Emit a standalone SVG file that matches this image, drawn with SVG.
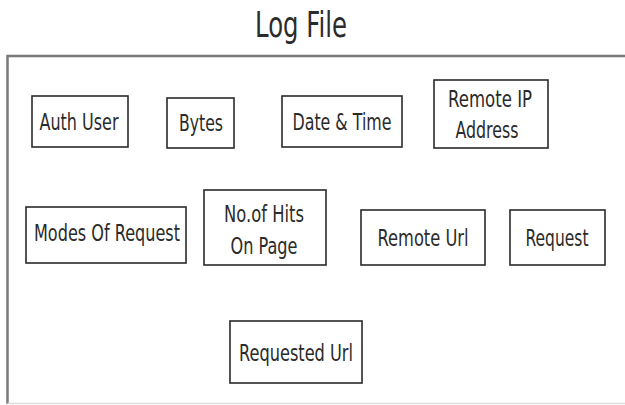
<svg xmlns="http://www.w3.org/2000/svg" width="625" height="405" viewBox="0 0 625 405">
<style>
.frame{fill:none;stroke:#7a7a7a;stroke-width:2.5}
.box{fill:#fff;stroke:#2a2a2a;stroke-width:1.6}
.t{font-family:"DejaVu Sans",Verdana,sans-serif;font-size:23px;fill:#2b2b2b;text-anchor:middle}
.title{font-family:"DejaVu Sans",Verdana,sans-serif;font-size:35px;fill:#2b2b2b;text-anchor:middle}
</style>
<rect width="625" height="405" fill="#fff"/>
<g id="log-file">
<path class="frame" d="M7.5,404 V56 H626"/>
<path d="M7.5,403.5 H625" stroke="#dcdcdc" stroke-width="1.5" fill="none"/>
<text class="title" x="301" y="37" textLength="92" lengthAdjust="spacingAndGlyphs">Log File</text>
</g>
<g id="connectors"></g>
<g id="auth-user"><rect class="box" x="32" y="96" width="96" height="51"/><text class="t" x="79" y="130" textLength="79" lengthAdjust="spacingAndGlyphs">Auth User</text></g>
<g id="bytes"><rect class="box" x="167" y="98" width="67" height="50"/><text class="t" x="201" y="131" textLength="44" lengthAdjust="spacingAndGlyphs">Bytes</text></g>
<g id="date-time"><rect class="box" x="282" y="96" width="120" height="51"/><text class="t" x="342" y="130" textLength="99" lengthAdjust="spacingAndGlyphs">Date &amp; Time</text></g>
<g id="remote-ip"><rect class="box" x="434" y="80" width="114" height="68"/><text class="t" x="490" y="107" textLength="84" lengthAdjust="spacingAndGlyphs">Remote IP</text><text class="t" x="487" y="138" textLength="63" lengthAdjust="spacingAndGlyphs">Address</text></g>
<g id="modes-of-request"><rect class="box" x="26" y="207" width="160" height="56"/><text class="t" x="107" y="241" textLength="146" lengthAdjust="spacingAndGlyphs">Modes Of Request</text></g>
<g id="hits-on-page"><rect class="box" x="204" y="190" width="122" height="75"/><text class="t" x="264" y="222" textLength="80" lengthAdjust="spacingAndGlyphs">No.of Hits</text><text class="t" x="264" y="254" textLength="67" lengthAdjust="spacingAndGlyphs">On Page</text></g>
<g id="remote-url"><rect class="box" x="361" y="210" width="124" height="55"/><text class="t" x="423" y="246" textLength="91" lengthAdjust="spacingAndGlyphs">Remote Url</text></g>
<g id="request"><rect class="box" x="510" y="210" width="95" height="55"/><text class="t" x="557" y="246" textLength="63" lengthAdjust="spacingAndGlyphs">Request</text></g>
<g id="requested-url"><rect class="box" x="230" y="321" width="132" height="62"/><text class="t" x="296" y="361" textLength="114" lengthAdjust="spacingAndGlyphs">Requested Url</text></g>
</svg>
